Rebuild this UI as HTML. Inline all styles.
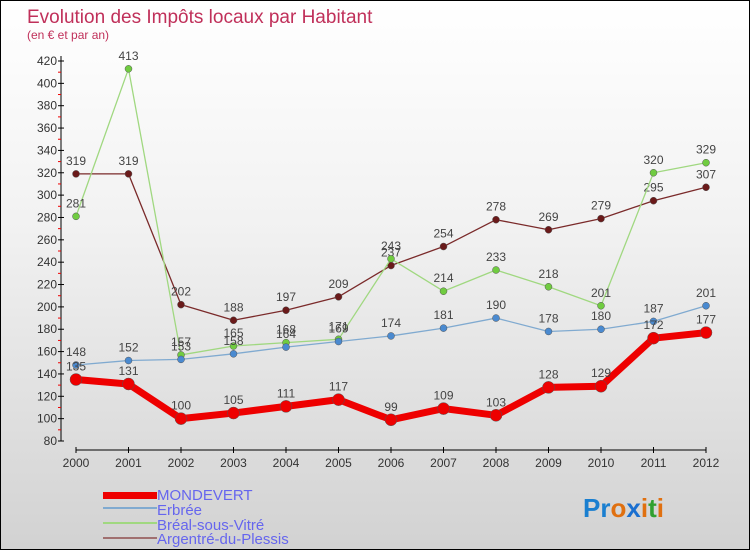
<!DOCTYPE html>
<html><head><meta charset="utf-8"><style>
html,body{margin:0;padding:0}
body{width:750px;height:550px;overflow:hidden;font-family:"Liberation Sans",sans-serif}
#wrap{position:relative;width:748px;height:548px;border:1px solid #000;background:linear-gradient(#ffffff,#f2f2f2 40%,#d2d2d2)}
svg{position:absolute;left:0;top:0}
</style></head><body>
<div id="wrap">
<svg id="chart" width="748" height="548">
<text x="26" y="22" font-size="19" fill="#c0305a">Evolution des Impôts locaux par Habitant</text>
<text x="26" y="38" font-size="12" fill="#c0305a">(en € et par an)</text>
<g id="axes"></g><g id="series"></g>
<g>
<rect x="102" y="491" width="54" height="7" fill="#e00"/>
<text x="156" y="499" font-size="15" fill="#6666ee">MONDEVERT</text>
<line x1="102" y1="507" x2="156" y2="507" stroke="#80aad0" stroke-width="2"/>
<text x="156" y="514" font-size="15" fill="#6666ee">Erbrée</text>
<line x1="102" y1="522" x2="156" y2="522" stroke="#a0d880" stroke-width="2"/>
<text x="156" y="529" font-size="15" fill="#6666ee">Bréal-sous-Vitré</text>
<line x1="102" y1="537" x2="156" y2="537" stroke="#a07070" stroke-width="2"/>
<text x="156" y="543" font-size="15" fill="#6666ee">Argentré-du-Plessis</text>
</g>
<text x="582" y="516" font-size="26" font-weight="bold"><tspan fill="#1a7fd0">Pr</tspan><tspan fill="#e07010">o</tspan><tspan fill="#1a6fd0">x</tspan><tspan fill="#e07010">i</tspan><tspan fill="#30a030">t</tspan><tspan fill="#e07010">i</tspan></text>
</svg></div>
<script>
const years=[2000,2001,2002,2003,2004,2005,2006,2007,2008,2009,2010,2011,2012];
const yTicks=[80,100,120,140,160,180,200,220,240,260,280,300,320,340,360,380,400,420];
const mondevert=[135,131,100,105,111,117,99,109,103,128,129,172,177];
const erbree=[148,152,153,158,164,169,174,181,190,178,180,187,201];
const breal=[281,413,157,165,168,171,243,214,233,218,201,320,329];
const argentre=[319,319,202,188,197,209,237,254,278,269,279,295,307];
const NS="http://www.w3.org/2000/svg";
const xS=i=>75+i*52.5;
const yS=v=>60+(420-v)*380/340;
function mk(t,a,p){const e=document.createElementNS(NS,t);for(const k in a)e.setAttribute(k,a[k]);p.appendChild(e);return e;}
const ax=document.getElementById('axes'),se=document.getElementById('series');
let l=mk('line',{x1:60,y1:55,x2:60,y2:440,stroke:'#000'},ax);


for(let v=90;v<420;v+=20){const m=mk('line',{x1:57,y1:yS(v),x2:60,y2:yS(v),stroke:'#e00'},ax);

}
yTicks.forEach(v=>{const t=mk('line',{x1:57,y1:yS(v),x2:63,y2:yS(v),stroke:'#000'},ax);


const tx=mk('text',{x:56,y:yS(v)+4,'font-size':12,fill:'#333','text-anchor':'end'},ax);tx.textContent=v;

});
l=mk('line',{x1:75,y1:449,x2:705,y2:449,stroke:'#000'},ax);


years.forEach((y,i)=>{const t=mk('line',{x1:xS(i),y1:446,x2:xS(i),y2:452,stroke:'#000'},ax);


const tx=mk('text',{x:xS(i),y:466,'font-size':12,fill:'#333','text-anchor':'middle'},ax);tx.textContent=y;

});
function series(data,color,dot,w,r,name){
const p=mk('polyline',{points:data.map((v,i)=>xS(i)+','+yS(v)).join(' '),fill:'none',stroke:color,'stroke-width':w,'stroke-linejoin':'round'},se);


data.forEach((v,i)=>{const c=mk('circle',{cx:xS(i),cy:yS(v),r:r,fill:dot,stroke:'#555','stroke-width':0.5},se);


const t=mk('text',{x:xS(i),y:yS(v)-9,'font-size':12,fill:'#444','text-anchor':'middle'},se);t.textContent=v;

});}
series(argentre,'#7a2a2a','#6a1a1a',1.3,3.5,'argentre');
series(breal,'#a0d880','#70cc40',1.3,3.5,'breal');
series(erbree,'#80aad0','#4a8ad0',1.3,3.5,'erbree');
series(mondevert,'#e00','#e00',7,6,'mondevert');
</script>
</body></html>
